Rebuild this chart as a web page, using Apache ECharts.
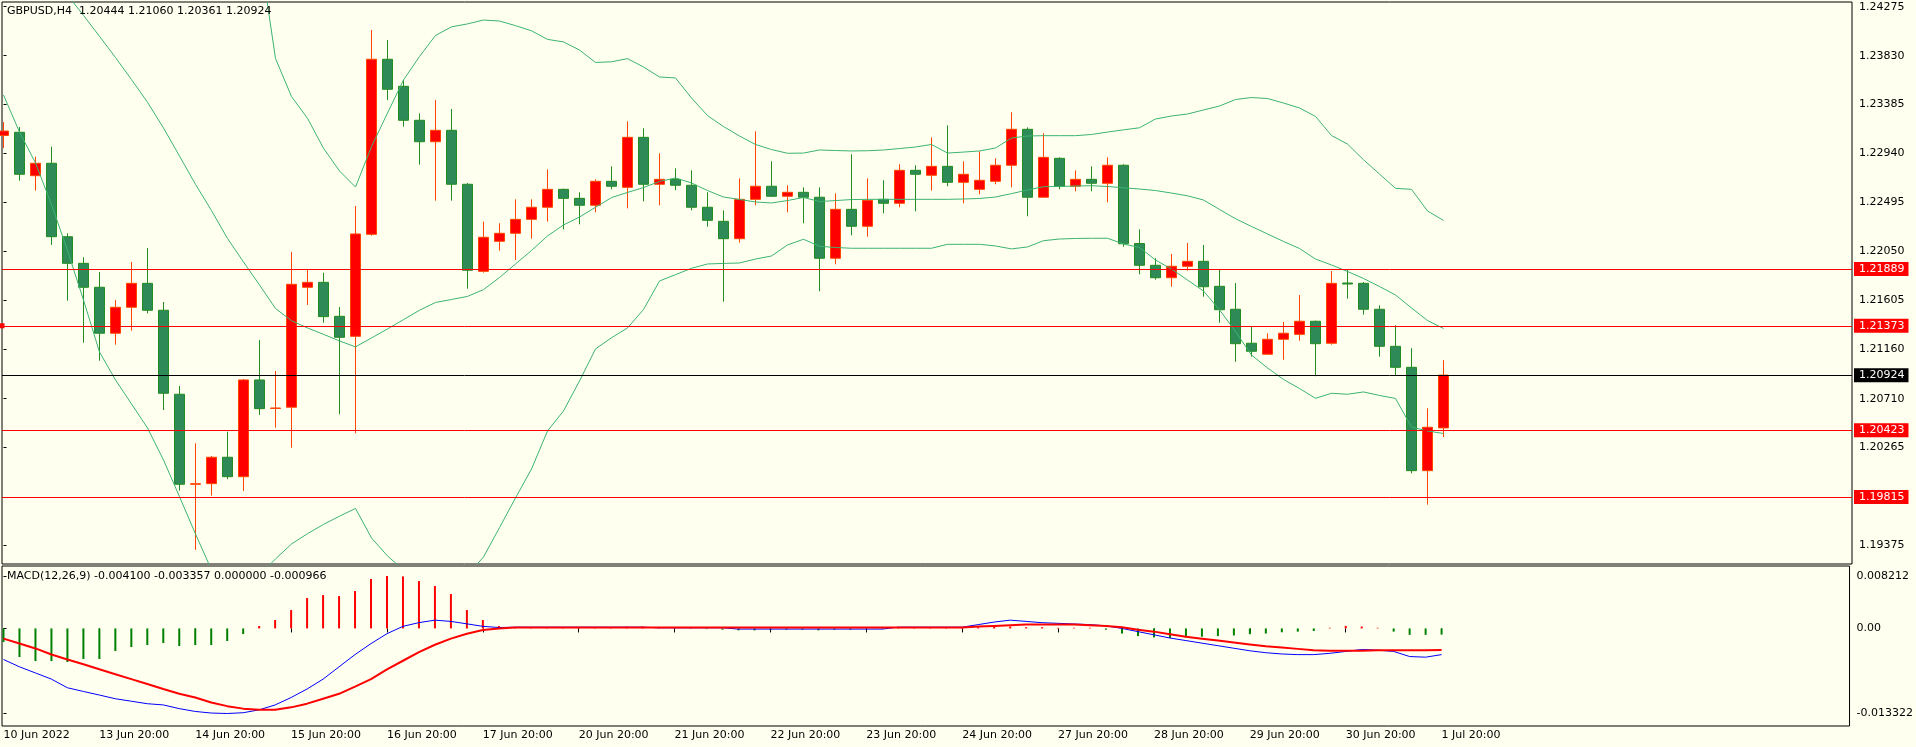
<!DOCTYPE html>
<html><head><meta charset="utf-8">
<script src="https://cdn.jsdelivr.net/npm/echarts@6/dist/echarts.min.js"></script>
<style>html,body{margin:0;padding:0;background:#FFFFF0;}#c{width:1916px;height:747px;}</style>
</head><body><div id="c"></div>
<script>
const symbolName = 'GBPUSD,H4';
const timeLabels = ['10 Jun 2022','13 Jun 20:00','14 Jun 20:00','15 Jun 20:00','16 Jun 20:00','17 Jun 20:00','20 Jun 20:00','21 Jun 20:00','22 Jun 20:00','23 Jun 20:00','24 Jun 20:00','27 Jun 20:00','28 Jun 20:00','29 Jun 20:00','30 Jun 20:00','1 Jul 20:00'];
const labelBars = [0,6,12,18,24,30,36,42,48,54,60,66,72,78,84,90];

const opens  = [1.23104,1.23133,1.22738,1.22851,1.22183,1.21941,1.21723,1.21305,1.21541,1.21759,1.21514,1.20750,1.19931,1.19937,1.20177,1.20000,1.20880,1.20621,1.20632,1.21723,1.21768,1.21459,1.21277,1.22205,1.23797,1.23551,1.23242,1.23047,1.23151,1.22660,1.21868,1.22141,1.22214,1.22341,1.22451,1.22614,1.22532,1.22469,1.22687,1.22632,1.23087,1.22660,1.22705,1.22651,1.22451,1.22323,1.22165,1.22523,1.22642,1.22551,1.22587,1.22542,1.21987,1.22432,1.22278,1.22523,1.22487,1.22787,1.22742,1.22823,1.22678,1.22614,1.22687,1.22833,1.23160,1.22542,1.22896,1.22642,1.22705,1.22669,1.22833,1.22121,1.21923,1.21810,1.21914,1.21959,1.21732,1.21523,1.21214,1.21114,1.21250,1.21295,1.21414,1.21214,1.21762,1.21759,1.21523,1.21186,1.20995,1.20055,1.20444];
const highs  = [1.23226,1.23181,1.22911,1.23002,1.22214,1.21996,1.21862,1.21607,1.21953,1.22080,1.21589,1.20825,1.20304,1.20189,1.20410,1.20889,1.21244,1.20962,1.22044,1.21880,1.21856,1.21544,1.22462,1.24063,1.23972,1.23608,1.23305,1.23426,1.23345,1.22672,1.22320,1.22305,1.22523,1.22523,1.22796,1.22620,1.22587,1.22705,1.22823,1.23233,1.23169,1.22942,1.22805,1.22787,1.22587,1.22423,1.22714,1.23142,1.22869,1.22651,1.22632,1.22632,1.22578,1.22933,1.22714,1.22696,1.22842,1.22833,1.23087,1.23196,1.22869,1.22960,1.22896,1.23315,1.23178,1.23124,1.22905,1.22787,1.22823,1.22905,1.22842,1.22250,1.21987,1.22026,1.22126,1.22108,1.21887,1.21762,1.21365,1.21305,1.21407,1.21653,1.21420,1.21871,1.21887,1.21771,1.21559,1.21377,1.21168,1.20622,1.21060];
const lows   = [1.22990,1.22692,1.22602,1.22108,1.21601,1.21219,1.21055,1.21201,1.21328,1.21486,1.20607,1.19873,1.19334,1.19828,1.19977,1.19870,1.20562,1.20446,1.20264,1.21562,1.21401,1.20568,1.20395,1.22192,1.23426,1.23184,1.22838,1.22511,1.22511,1.21710,1.21856,1.22056,1.21971,1.22165,1.22320,1.22250,1.22296,1.22405,1.22614,1.22441,1.22505,1.22469,1.22605,1.22423,1.22274,1.21592,1.22129,1.22469,1.22544,1.22405,1.22305,1.21687,1.21932,1.22196,1.22183,1.22396,1.22451,1.22414,1.22602,1.22642,1.22487,1.22569,1.22660,1.22632,1.22369,1.22542,1.22614,1.22596,1.22596,1.22496,1.22092,1.21841,1.21792,1.21728,1.21874,1.21637,1.21401,1.21046,1.21092,1.21114,1.21064,1.21237,1.20914,1.21201,1.21619,1.21474,1.21092,1.20919,1.20031,1.19746,1.20361];
const closes = [1.23144,1.22751,1.22851,1.22183,1.21941,1.21723,1.21305,1.21541,1.21759,1.21514,1.20759,1.19931,1.19936,1.20177,1.20000,1.20880,1.20619,1.20625,1.21750,1.21768,1.21456,1.21268,1.22208,1.23797,1.23524,1.23242,1.23047,1.23151,1.22660,1.21878,1.22178,1.22214,1.22341,1.22451,1.22614,1.22532,1.22469,1.22687,1.22642,1.23087,1.22660,1.22705,1.22651,1.22451,1.22332,1.22165,1.22523,1.22642,1.22551,1.22587,1.22542,1.21987,1.22432,1.22278,1.22514,1.22487,1.22787,1.22751,1.22823,1.22678,1.22751,1.22696,1.22833,1.23160,1.22542,1.22905,1.22642,1.22705,1.22669,1.22833,1.22119,1.21923,1.21810,1.21914,1.21959,1.21728,1.21519,1.21210,1.21141,1.21250,1.21305,1.21414,1.21210,1.21759,1.21753,1.21523,1.21186,1.20995,1.20055,1.20450,1.20924];

const bbUpper  = [1.2680,1.2678,1.2675,1.2670,1.2665,1.2660,1.2655,1.2645,1.2635,1.2620,1.2605,1.2590,1.2570,1.2545,1.2520,1.2500,1.2479,1.23804,1.23458,1.23260,1.22987,1.22781,1.22635,1.23003,1.23308,1.23609,1.23822,1.24014,1.24092,1.24119,1.24154,1.24145,1.24103,1.24056,1.23978,1.23955,1.23881,1.23768,1.23774,1.23803,1.23727,1.23636,1.23627,1.23445,1.23285,1.23185,1.23099,1.23022,1.22976,1.22942,1.22944,1.22972,1.22967,1.22963,1.22965,1.22972,1.22985,1.22999,1.23022,1.22944,1.22953,1.22963,1.22990,1.23081,1.23099,1.23102,1.23102,1.23102,1.23113,1.23135,1.23155,1.23174,1.23254,1.23281,1.23299,1.23336,1.23372,1.23431,1.23449,1.23440,1.23399,1.23354,1.23277,1.23103,1.23026,1.22883,1.22753,1.22623,1.22614,1.22417,1.22331];
const bbMiddle = [1.25109,1.24936,1.24763,1.24581,1.24381,1.24196,1.24006,1.23813,1.23612,1.23406,1.23172,1.22917,1.22659,1.22421,1.22167,1.21953,1.21744,1.21530,1.21419,1.21353,1.21295,1.21235,1.21181,1.21262,1.21344,1.21429,1.21514,1.21585,1.21612,1.21640,1.21702,1.21812,1.21935,1.22058,1.22190,1.22290,1.22362,1.22451,1.22539,1.22586,1.22630,1.22686,1.22717,1.22672,1.22603,1.22544,1.22522,1.22499,1.22490,1.22512,1.22540,1.22503,1.22512,1.22521,1.22523,1.22523,1.22523,1.22523,1.22523,1.22523,1.22526,1.22531,1.22544,1.22575,1.22608,1.22638,1.22640,1.22644,1.22647,1.22640,1.22628,1.22617,1.22603,1.22580,1.22555,1.22517,1.22431,1.22347,1.22276,1.22208,1.22140,1.22076,1.21980,1.21926,1.21867,1.21803,1.21730,1.21653,1.21535,1.21421,1.21348];
const bbLower  = [1.23472,1.23135,1.22854,1.22475,1.22058,1.21607,1.21134,1.20880,1.20662,1.20443,1.20152,1.19818,1.19479,1.19152,1.19015,1.18970,1.19106,1.19252,1.19388,1.19482,1.19566,1.19641,1.19711,1.19443,1.19279,1.19152,1.19061,1.19015,1.19015,1.19106,1.19270,1.19537,1.19807,1.20070,1.20416,1.20598,1.20871,1.21162,1.21264,1.21353,1.21521,1.21780,1.21838,1.21896,1.21935,1.21940,1.21944,1.21980,1.22008,1.22108,1.22160,1.22096,1.22085,1.22078,1.22078,1.22078,1.22078,1.22078,1.22078,1.22114,1.22114,1.22114,1.22099,1.22072,1.22090,1.22147,1.22162,1.22167,1.22169,1.22169,1.22117,1.22085,1.21971,1.21889,1.21789,1.21689,1.21518,1.21321,1.21107,1.20989,1.20885,1.20802,1.20713,1.20759,1.20750,1.20771,1.20739,1.20712,1.20452,1.20416,1.20393];

const macdHist   = [-0.00213,-0.00448,-0.00511,-0.00511,-0.00526,-0.00479,-0.00479,-0.00354,-0.00291,-0.00260,-0.00229,-0.00276,-0.00260,-0.00260,-0.00197,-0.00088,0.00038,0.00132,0.00288,0.00476,0.00523,0.00507,0.00586,0.00774,0.00821,0.00815,0.00742,0.00664,0.00539,0.00288,0.00132,0.00038,0.0002,0.0002,0.0001,0.0001,0.0001,0.0002,0.0002,0.0003,0.0003,0.0002,0.0002,0.0001,-0.0001,-0.0002,-0.0003,-0.0003,-0.0002,-0.0002,-0.0002,-0.0003,-0.0002,-0.0002,-0.0001,-0.0001,0.0001,0.0001,0.0001,0.0002,0.0002,0.0002,0.0003,0.0003,0.0002,0.0002,0.0001,0.0001,0.0001,-0.0002,-0.0008,-0.0012,-0.0014,-0.0015,-0.0014,-0.0013,-0.0012,-0.0011,-0.0009,-0.0008,-0.0006,-0.0005,-0.0004,0.0001,0.0004,0.0003,0.0001,-0.0005,-0.0010,-0.0010,-0.000966];
const macdMain   = [-0.00486,-0.00601,-0.00697,-0.00794,-0.00929,-0.00987,-0.01043,-0.01101,-0.01140,-0.01179,-0.01198,-0.01256,-0.01300,-0.01325,-0.013322,-0.01320,-0.01275,-0.01198,-0.01082,-0.00948,-0.00794,-0.00601,-0.00409,-0.00237,-0.00082,0.00033,0.00091,0.00130,0.00110,0.00072,0.00033,0.00014,0.0002,0.0002,0.0002,0.0002,0.0002,0.0002,0.0002,0.0002,0.0002,0.0001,0.0001,0.0001,0.0001,0.0001,-0.0001,-0.0001,-0.0001,-0.0001,-0.0001,-0.0001,-0.0001,-0.0001,-0.0001,-0.0001,0.0002,0.0002,0.0002,0.0002,0.0002,0.0006,0.0010,0.0013,0.0011,0.0009,0.0008,0.0007,0.0006,0.0004,0.0000,-0.0005,-0.0010,-0.0015,-0.0019,-0.0023,-0.0027,-0.0031,-0.0035,-0.0038,-0.0040,-0.0041,-0.0041,-0.0039,-0.0036,-0.0033,-0.0034,-0.0036,-0.0044,-0.0045,-0.0041];
const macdSignal = [-0.00159,-0.00236,-0.00313,-0.00409,-0.00486,-0.00562,-0.00640,-0.00717,-0.00794,-0.00871,-0.00948,-0.01024,-0.01082,-0.01159,-0.01217,-0.01256,-0.01275,-0.01275,-0.01236,-0.01178,-0.01101,-0.01024,-0.00910,-0.00794,-0.00640,-0.00506,-0.00371,-0.00255,-0.00159,-0.00082,-0.00025,0.0000,0.00014,0.00014,0.00014,0.00014,0.00014,0.00014,0.00014,0.00014,0.00014,0.00014,0.00014,0.00014,0.00014,0.00014,0.00014,0.00014,0.00014,0.00014,0.00014,0.00014,0.00014,0.00014,0.00014,0.00014,0.00014,0.00014,0.00014,0.00014,0.00014,0.0003,0.0004,0.0005,0.0006,0.0006,0.0006,0.0006,0.0005,0.0004,0.0002,-0.0002,-0.0005,-0.0009,-0.0013,-0.0016,-0.0019,-0.0022,-0.0025,-0.0028,-0.0030,-0.0032,-0.0034,-0.0035,-0.0035,-0.0035,-0.0034,-0.0034,-0.0034,-0.0034,-0.003357];

const priceTicks = [1.24275,1.23830,1.23385,1.22940,1.22495,1.22050,1.21605,1.21160,1.20710,1.20265,1.19375];
const macdTicks = [0.008212,0,-0.013322];
const redLevels = [1.21889,1.21373,1.20423,1.19815];
const bidLevel = 1.20924;
const macdLabel = 'MACD(12,26,9) -0.004100 -0.003357 0.000000 -0.000966';

const F = 'DejaVu Sans';
const BG = '#FFFFF0';
const xMin = -0.09375, xMax = 115.53;

const candleData = opens.map((o, i) => [i, o, closes[i], lows[i], highs[i]]);
const pair = arr => arr.map((v, i) => [i, v]);
const last = opens.length - 1;
const titleText = symbolName + '  ' + [opens[last], highs[last], lows[last], closes[last]].map(v => v.toFixed(5)).join(' ');

function tag(bg) {
  return {show: true, position: 'end', distance: 2, formatter: p => Number(p.value).toFixed(5),
    color: '#FFFFFF', backgroundColor: bg, padding: [2, 4, 1, 5], fontSize: 11, fontFamily: F};
}
const markData = redLevels.map(v => {
  const item = {yAxis: v, lineStyle: {color: '#FF0000', width: 1, type: 'solid'}, label: tag('#FF0000')};
  if (v === 1.21373) { item.symbol = ['rect', 'rect']; item.symbolSize = 5; }
  return item;
});
markData.push({yAxis: bidLevel, lineStyle: {color: '#000000', width: 1, type: 'solid'}, label: tag('#000000')});

const chart = echarts.init(document.getElementById('c'));
const bandLine = (name, arr) => ({
  name, type: 'line', xAxisIndex: 0, yAxisIndex: 0, data: pair(arr), symbol: 'none',
  lineStyle: {color: '#3CB371', width: 1}, clip: true, z: 3, silent: true
});

chart.setOption({
  animation: false,
  backgroundColor: BG,
  title: [
    {text: titleText, left: 7, top: 6, padding: 0, textStyle: {fontSize: 11, fontWeight: 'normal', color: '#000', fontFamily: F}},
    {text: macdLabel, left: 7, top: 571, padding: 0, textStyle: {fontSize: 11, fontWeight: 'normal', color: '#000', fontFamily: F}}
  ],
  grid: [
    {left: 2, right: 64, top: 2, height: 562, show: true, borderColor: '#000', borderWidth: 1, backgroundColor: 'transparent'},
    {left: 2, right: 64, top: 566, height: 160, show: true, borderColor: '#000', borderWidth: 1, backgroundColor: 'transparent'}
  ],
  xAxis: [
    {type: 'value', gridIndex: 0, min: xMin, max: xMax, show: false},
    {type: 'value', gridIndex: 1, min: xMin, max: xMax,
      axisLine: {show: false}, splitLine: {show: false},
      axisTick: {show: true, customValues: labelBars, length: 4, lineStyle: {color: '#000'}},
      axisLabel: {customValues: labelBars, formatter: v => timeLabels[labelBars.indexOf(Math.round(v))] || '',
        align: 'left', margin: 4, color: '#000', fontSize: 11, fontFamily: F}}
  ],
  yAxis: [
    {type: 'value', gridIndex: 0, position: 'right', min: 1.19206, max: 1.24318,
      axisLine: {show: false}, splitLine: {show: false},
      axisTick: {show: true, customValues: priceTicks, length: 3, lineStyle: {color: '#000'}},
      axisLabel: {customValues: priceTicks, formatter: v => v.toFixed(5), margin: 7, color: '#000', fontSize: 11, fontFamily: F}},
    {type: 'value', gridIndex: 1, position: 'right', min: -0.01528, max: 0.00978,
      axisLine: {show: false}, splitLine: {show: false},
      axisTick: {show: true, customValues: macdTicks, length: 3, lineStyle: {color: '#000'}},
      axisLabel: {customValues: macdTicks, formatter: v => (Math.abs(v) < 1e-9 ? '0.00' : v.toFixed(6)), margin: 7, color: '#000', fontSize: 11, fontFamily: F}}
  ],
  series: [
    {type: 'candlestick', xAxisIndex: 0, yAxisIndex: 0, data: candleData, barWidth: 10, clip: true,
      itemStyle: {color: '#FF0000', color0: '#2E8B57', borderColor: '#FF4500', borderColor0: '#228B22', borderWidth: 1},
      markLine: {silent: true, symbol: 'none', precision: 5, animation: false, data: markData}},
    bandLine('upper', bbUpper),
    bandLine('middle', bbMiddle),
    bandLine('lower', bbLower),
    {type: 'bar', xAxisIndex: 1, yAxisIndex: 1, data: pair(macdHist), barWidth: 2, silent: true,
      itemStyle: {color: p => (p.value[1] >= 0 ? '#FF0000' : '#008000')}},
    {type: 'line', xAxisIndex: 1, yAxisIndex: 1, data: pair(macdMain), symbol: 'none', silent: true,
      lineStyle: {color: '#0000FF', width: 1}, z: 4},
    {type: 'line', xAxisIndex: 1, yAxisIndex: 1, data: pair(macdSignal), symbol: 'none', silent: true,
      lineStyle: {color: '#FF0000', width: 2}, z: 5}
  ]
});
</script>
</body></html>
